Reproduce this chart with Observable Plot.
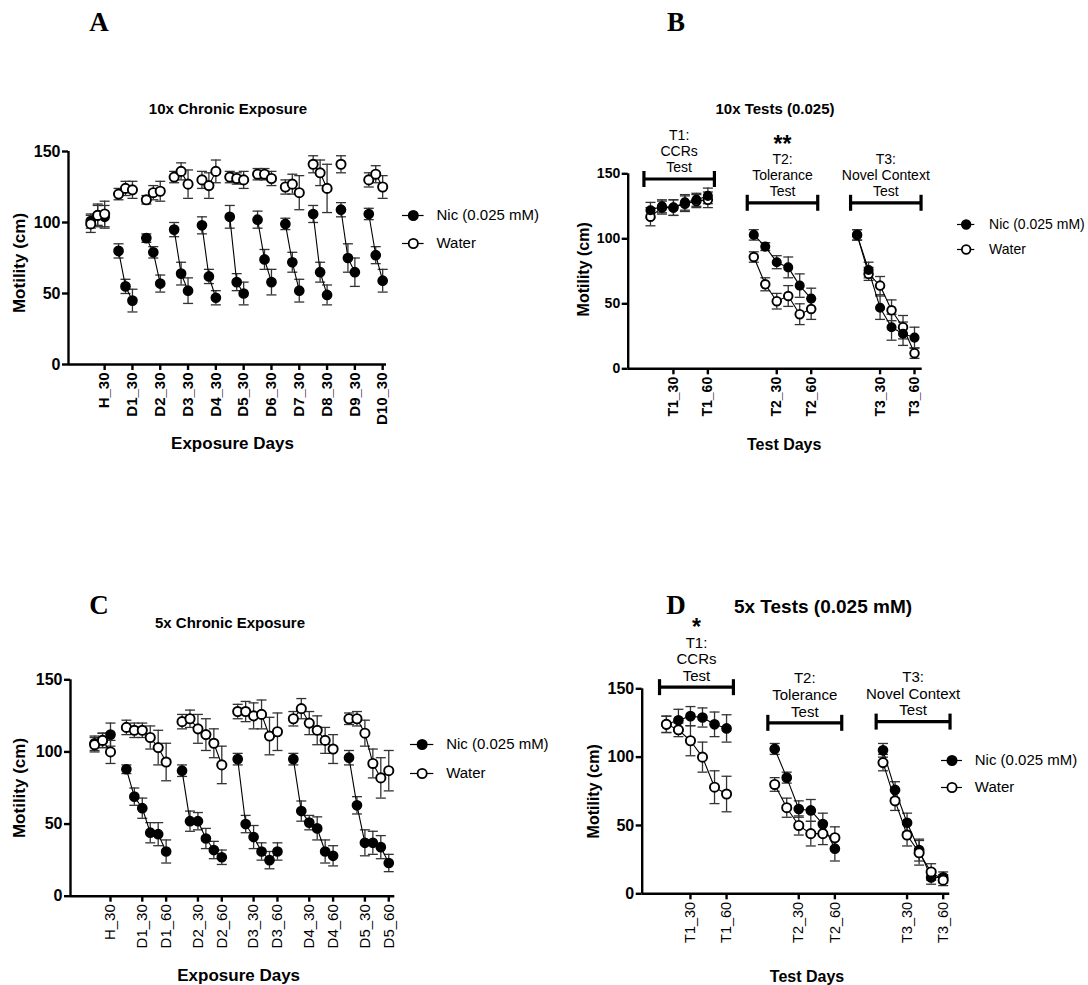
<!DOCTYPE html>
<html><head><meta charset="utf-8">
<script src="https://cdn.jsdelivr.net/npm/d3@7"></script>
<script src="https://cdn.jsdelivr.net/npm/@observablehq/plot@0.6"></script>
<style>
body{margin:0;background:#fff;font-family:"Liberation Sans",Arial,sans-serif;}
#fig{position:relative;width:1088px;height:985px;overflow:hidden;background:#fff;}
.letter{position:absolute;font-family:"Liberation Serif","Times New Roman",serif;font-weight:bold;font-size:27px;transform:translate(-50%,-50%);line-height:1;}
.title{position:absolute;font-weight:bold;white-space:nowrap;transform:translate(-50%,-50%);line-height:1;color:#000;}
</style></head><body><div id="fig"></div>
<script>
// ---------- DATA ----------
// Panel A: 10x Chronic Exposure (3 time bins per day: 10, 20, 30 min)
const aDays = ["H","D1","D2","D3","D4","D5","D6","D7","D8","D9","D10"];
const aMinutes = [10, 20, 30];
const aNic = [[101,105,104],[80,55,45],[89,79,57],[95,64,52],[98,62,47],[104,58,50],[102,74,58],[99,72,52],[106,65,49],[109,75,65],[106,77,59]];
const aNicSem = [[5,8,8],[5,5,8],[3,4,6],[5,8,9],[6,5,5],[8,6,8],[6,7,9],[4,7,8],[6,7,7],[5,10,10],[4,6,8]];
const aWater = [[99,105,106],[120,124,123],[116,121,122],[132,136,127],[130,126,136],[132,131,130],[134,134,131],[125,127,121],[141,135,124],[141,null,null],[130,134,125]];
const aWaterSem = [[6,7,9],[4,5,6],[3,5,7],[4,6,10],[6,9,8],[4,4,6],[4,4,5],[5,7,12],[6,9,17],[6,null,null],[5,6,8]];

// Panel B: 10x Tests (6 bins: 10..60 min)
const bTests = ["T1","T2","T3"];
const testMinutes = [10, 20, 30, 40, 50, 60];
const bNic = [[122,125,124,128,130,133],[103,94,82,78,64,54],[103,76,47,32,27,24]];
const bNicSem = [[6,5,6,6,5,6],[4,3,5,8,9,8],[4,6,9,10,9,8]];
const bWater = [[117,124,124,127,129,130],[86,65,52,56,42,46],[103,73,64,45,32,12]];
const bWaterSem = [[7,5,6,6,5,6],[4,5,6,8,8,8],[4,5,7,8,9,4]];
const bLabels = ["T1:\nCCRs\nTest","T2:\nTolerance\nTest","T3:\nNovel Context\nTest"];
const bBracketY = [146, 127.7, 127.7];
const bStars = ["", "**", ""];

// Panel C: 5x Chronic Exposure (H: 3 bins, days: 6 bins)
const cDays = ["H","D1","D2","D3","D4","D5"];
const cNic = [[106,108,112],[88,69,61,44,43,31],[87,52,52,40,32,27],[95,50,41,31,25,31],[95,59,51,47,31,28],[96,63,37,37,34,23]];
const cNicSem = [[5,5,8],[3,6,7,7,8,8],[4,7,6,7,6,5],[4,6,8,6,6,6],[4,7,5,8,8,7],[5,6,9,8,8,6]];
const cWater = [[105,108,100],[117,115,115,110,103,93],[121,123,116,112,106,91],[128,128,125,126,111,114],[123,130,120,115,108,102],[123,123,113,92,82,87]];
const cWaterSem = [[5,5,8],[5,5,5,8,12,13],[5,6,10,11,10,13],[5,7,9,10,13,13],[5,7,8,10,9,10],[4,5,9,10,14,14]];

// Panel D: 5x Tests (0.025 mM)
const dNic = [[124,127,130,129,124,121],[106,85,62,61,51,33],[105,76,52,32,12,12]];
const dNicSem = [[6,8,7,7,9,10],[4,4,6,8,8,9],[5,6,7,8,5,4]];
const dWater = [[124,120,112,100,78,73],[80,63,50,44,44,41],[96,68,43,30,16,10]];
const dWaterSem = [[6,5,11,11,12,13],[5,7,7,9,8,8],[6,7,8,9,6,4]];
const dBracketY = [151.2, 125.1, 126];
const dStars = ["*", "", ""];

const seriesNames = ["Nic (0.025 mM)", "Water"];
const yTicks = [0, 50, 100, 150];

// ---------- HELPERS ----------
const EB = "#333";
const FONT = "Liberation Sans, Arial, Helvetica, sans-serif";
const capSymbol = {draw(ctx, size) { const w = Math.sqrt(size / Math.PI); ctx.moveTo(-w, 0); ctx.lineTo(w, 0); }};
const barSymbol = {draw(ctx, size) { const h = Math.sqrt(size / Math.PI); ctx.moveTo(0, -h); ctx.lineTo(0, h); }};
const fig = document.getElementById("fig");

function buildRows(groups, minutes, series, slotOf) {
  const rows = [];
  for (const s of series) groups.forEach((g, gi) => {
    s.values[gi].forEach((v, mi) => {
      if (v == null) return;
      rows.push({series: s.name, group: g, minute: minutes[mi], slot: slotOf(gi, mi), value: v, sem: s.sems[gi][mi]});
    });
  });
  return rows;
}

function place(el, left, top) {
  el.style.position = "absolute"; el.style.left = left + "px"; el.style.top = top + "px";
  fig.appendChild(el);
}

function drawPanel(c) {
  const nic = c.rows.filter(d => d.series === "Nic");
  const water = c.rows.filter(d => d.series === "Water");
  const caps = c.rows.flatMap(d => [{slot: d.slot, y: d.value - d.sem}, {slot: d.slot, y: d.value + d.sem}]);
  const dotsNic = Plot.dot(nic, {x: "slot", y: "value", r: c.r, fill: "black", stroke: "black", strokeWidth: 1.5});
  const dotsWater = Plot.dot(water, {x: "slot", y: "value", r: c.r, fill: "white", stroke: "black", strokeWidth: 1.9});
  const tickMap = new Map(c.ticks.map((t, i) => [t, c.tickLabels[i]]));
  const marks = [
    Plot.ruleX(c.rows, {x: "slot", y1: d => d.value - d.sem, y2: d => d.value + d.sem, stroke: EB, strokeWidth: 1.3}),
    Plot.dot(caps, {x: "slot", y: "y", symbol: capSymbol, r: 5, fill: "none", stroke: EB, strokeWidth: 1.3}),
    Plot.line(c.rows, {x: "slot", y: "value", z: d => d.series + d.group, stroke: "black", strokeWidth: 1.1}),
    ...(c.nicOnTop ? [dotsWater, dotsNic] : [dotsNic, dotsWater]),
    Plot.ruleX([c.xDomain[0]], {stroke: "black", strokeWidth: 2.4}),
    Plot.ruleY([0], {stroke: "black", strokeWidth: 2.4}),
    Plot.axisY({ticks: yTicks, tickSize: 6, tickPadding: 2, fontSize: c.yTickFont, fontWeight: "bold", strokeWidth: 2.4, label: null}),
    Plot.axisX({ticks: c.ticks, tickFormat: d => tickMap.get(d), tickRotate: -90, tickSize: 6, tickPadding: 2,
      fontSize: c.xTickFont, fontWeight: c.xTickWeight, strokeWidth: 2.4, label: null}),
    Plot.text([c.yTitle], {text: d => d, frameAnchor: "left", rotate: -90, textAnchor: "middle", lineAnchor: "middle",
      dx: c.yDx, dy: c.yDy, fontSize: c.titleFont, fontWeight: "bold"}),
    Plot.text([c.xTitle], {text: d => d, frameAnchor: "bottom", textAnchor: "middle", lineAnchor: "middle",
      dx: c.xDx, dy: c.xDy, fontSize: c.titleFont, fontWeight: "bold"})
  ];
  if (c.brackets) {
    const pad = 0.57;
    marks.push(
      Plot.ruleY(c.brackets, {y: "y", x1: d => d.from - pad, x2: d => d.to + pad, stroke: "black", strokeWidth: 3.2}),
      Plot.dot(c.brackets.flatMap(d => [{x: d.from - pad, y: d.y}, {x: d.to + pad, y: d.y}]),
        {x: "x", y: "y", symbol: barSymbol, r: 8, fill: "none", stroke: "black", strokeWidth: 3.2}),
      Plot.text(c.brackets, {x: d => (d.from + d.to) / 2, y: "y", text: "label", lineAnchor: "bottom",
        dy: c.labelDy, fontSize: c.labelFont, lineHeight: c.labelLH}),
      Plot.text(c.brackets.filter(d => d.stars), {x: d => (d.from + d.to) / 2, y: "y", text: "stars", lineAnchor: "bottom",
        dy: c.starDy, fontSize: 23, fontWeight: "bold"})
    );
  }
  const svg = Plot.plot({
    width: c.box.w, height: c.box.h,
    marginTop: c.m[0], marginRight: c.m[1], marginBottom: c.m[2], marginLeft: c.m[3],
    x: {type: "linear", domain: c.xDomain},
    y: {type: "linear", domain: [0, 150]},
    style: {fontFamily: FONT, background: "transparent", color: "black", overflow: "visible"},
    marks
  });
  place(svg, c.box.left, c.box.top);
}

function drawLegend(l) {
  const items = seriesNames.map((name, i) => ({name, fill: i === 0 ? "black" : "white"}));
  const w = 150, h = l.spacing + 26, x0 = 2, y0 = 13;
  const svg = Plot.plot({
    width: w, height: h, margin: 0,
    x: {type: "linear", domain: [0, w], range: [0, w], axis: null},
    y: {type: "point", domain: seriesNames, range: [y0, y0 + l.spacing], padding: 0, axis: null},
    style: {fontFamily: FONT, background: "transparent", color: "black", overflow: "visible"},
    marks: [
      Plot.ruleY(items, {y: "name", x1: x0, x2: x0 + l.len, stroke: "black", strokeWidth: 1.2}),
      Plot.dot(items, {x: x0 + l.len / 2, y: "name", r: l.r, fill: d => d.fill, stroke: "black", strokeWidth: 1.8}),
      Plot.text(items, {x: x0 + (l.textX - l.lineStart), y: "name", text: "name", textAnchor: "start", fontSize: l.font})
    ]
  });
  place(svg, l.lineStart - x0, l.row1 - y0);
}

function addText(cls, text, x, y, size) {
  const d = document.createElement("div");
  d.className = cls; d.textContent = text;
  d.style.left = x + "px"; d.style.top = y + "px";
  if (size) d.style.fontSize = size + "px";
  fig.appendChild(d);
}

// ---------- PANEL A ----------
const rowsA = buildRows(aDays, aMinutes, [
  {name: "Nic", values: aNic, sems: aNicSem},
  {name: "Water", values: aWater, sems: aWaterSem}], (gi, mi) => gi * 4 + mi);
drawPanel({rows: rowsA, box: {left: 0, top: 0, w: 544, h: 480}, m: [151, 158, 116, 68], xDomain: [-3.2, 42.55],
  ticks: aDays.map((d, i) => i * 4 + 2), tickLabels: aDays.map(d => d + "_30"),
  yTickFont: 16, xTickFont: 15, xTickWeight: "bold", titleFont: 17,
  yTitle: "Motility (cm)", xTitle: "Exposure Days", yDx: -48.7, yDy: 5, xDx: 5, xDy: 78.7, r: 4.6, nicOnTop: false});
drawLegend({lineStart: 401.7, len: 21.6, row1: 215, spacing: 28.3, textX: 435.7, font: 15, r: 4.6});

// ---------- PANEL B ----------
const testSlot = (gi, mi) => gi * 9 + mi;
const testTicks = bTests.flatMap((t, i) => [i * 9 + 2, i * 9 + 5]);
const testTickLabels = bTests.flatMap(t => [t + "_30", t + "_60"]);
const rowsB = buildRows(bTests, testMinutes, [
  {name: "Nic", values: bNic, sems: bNicSem},
  {name: "Water", values: bWater, sems: bWaterSem}], testSlot);
drawPanel({rows: rowsB, box: {left: 544, top: 0, w: 544, h: 480}, m: [173.3, 166.3, 111.7, 83.7], xDomain: [-1.94, 23.67],
  ticks: testTicks, tickLabels: testTickLabels,
  yTickFont: 14, xTickFont: 14, xTickWeight: "bold", titleFont: 16,
  yTitle: "Motility (cm)", xTitle: "Test Days", yDx: -44.7, yDy: -2, xDx: 9, xDy: 75.7, r: 4.3, nicOnTop: true,
  brackets: bTests.map((t, i) => ({label: bLabels[i], from: i * 9, to: i * 9 + 5, y: bBracketY[i], stars: bStars[i]})),
  labelDy: -7, labelLH: 1.13, labelFont: 14, starDy: -51});
drawLegend({lineStart: 956.7, len: 17.3, row1: 224.3, spacing: 25.7, textX: 988.3, font: 14, r: 4.3});

// ---------- PANEL C ----------
const cSlot = (gi, mi) => gi === 0 ? mi : 4 + (gi - 1) * 7 + mi;
const cTicks = [2, ...cDays.slice(1).flatMap((d, i) => [4 + i * 7 + 2, 4 + i * 7 + 5])];
const cTickLabels = ["H_30", ...cDays.slice(1).flatMap(d => [d + "_30", d + "_60"])];
const rowsC = buildRows(cDays, testMinutes, [
  {name: "Nic", values: cNic, sems: cNicSem},
  {name: "Water", values: cWater, sems: cWaterSem}], cSlot);
drawPanel({rows: rowsC, box: {left: 0, top: 500, w: 544, h: 485}, m: [179.3, 149.7, 89.3, 70], xDomain: [-3.03, 37.76],
  ticks: cTicks, tickLabels: cTickLabels,
  yTickFont: 16, xTickFont: 15, xTickWeight: "normal", titleFont: 17,
  yTitle: "Motility (cm)", xTitle: "Exposure Days", yDx: -50.7, yDy: 0, xDx: 6, xDy: 79.3, r: 4.6, nicOnTop: false});
drawLegend({lineStart: 410, len: 23.3, row1: 744, spacing: 29.3, textX: 445.7, font: 15, r: 4.6});

// ---------- PANEL D ----------
const rowsD = buildRows(bTests, testMinutes, [
  {name: "Nic", values: dNic, sems: dNicSem},
  {name: "Water", values: dWater, sems: dWaterSem}], testSlot);
drawPanel({rows: rowsD, box: {left: 544, top: 500, w: 544, h: 485}, m: [188.3, 138.7, 91.7, 97.7], xDomain: [-2.01, 23.55],
  ticks: testTicks, tickLabels: testTickLabels,
  yTickFont: 16, xTickFont: 14.5, xTickWeight: "normal", titleFont: 16,
  yTitle: "Motility (cm)", xTitle: "Test Days", yDx: -48.4, yDy: 0, xDx: 11, xDy: 83.4, r: 4.6, nicOnTop: false,
  brackets: bTests.map((t, i) => ({label: bLabels[i], from: i * 9, to: i * 9 + 5, y: dBracketY[i], stars: dStars[i]})),
  labelDy: -6.3, labelLH: 1.11, labelFont: 15, starDy: -52});
drawLegend({lineStart: 940.7, len: 21, row1: 760, spacing: 27.3, textX: 974, font: 15, r: 4.6});

// ---------- TITLES & LETTERS ----------
addText("letter", "A", 99, 22);
addText("letter", "B", 676, 22);
addText("letter", "C", 99, 605);
addText("letter", "D", 676, 605);
addText("title", "10x Chronic Exposure", 228, 108, 15);
addText("title", "10x Tests (0.025)", 775, 108, 15);
addText("title", "5x Chronic Exposure", 230, 622, 15);
addText("title", "5x Tests (0.025 mM)", 823, 606, 19);
</script></body></html>
